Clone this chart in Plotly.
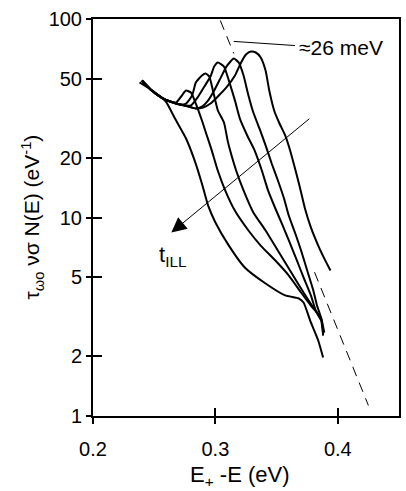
import numpy as np
import plotly.graph_objects as go

# ---- data (x in eV, y in eV^-1) ----
c1_x = [0.238, 0.247, 0.256, 0.260, 0.267, 0.276, 0.283, 0.289, 0.294, 0.300, 0.311, 0.324, 0.341, 0.357, 0.368, 0.372, 0.378, 0.384, 0.388]
c1_y = [47.9, 44.2, 40.2, 38.0, 31.5, 25.0, 19.4, 14.8, 11.5, 9.44, 7.22, 5.60, 4.65, 4.05, 3.91, 3.73, 2.96, 2.40, 1.97]

c2_x = [0.240, 0.247, 0.256, 0.263, 0.268, 0.272, 0.276, 0.280, 0.284, 0.289, 0.293, 0.297, 0.302, 0.308, 0.316, 0.327, 0.337, 0.349, 0.360, 0.370, 0.378, 0.386, 0.389]
c2_y = [49.0, 44.2, 40.2, 38.4, 38.0, 40.7, 43.6, 42.6, 37.5, 30.8, 25.9, 21.8, 17.2, 13.7, 10.8, 8.60, 7.22, 6.07, 5.10, 4.19, 3.60, 3.13, 2.63]

c3_x = [0.240, 0.247, 0.256, 0.263, 0.271, 0.276, 0.281, 0.284, 0.289, 0.292, 0.295, 0.298, 0.302, 0.307, 0.310, 0.312, 0.317, 0.323, 0.331, 0.341, 0.351, 0.362, 0.372, 0.380, 0.386, 0.388]
c3_y = [49.0, 44.2, 40.2, 38.4, 37.1, 37.5, 41.2, 47.9, 51.9, 53.1, 51.3, 43.6, 34.6, 30.1, 24.4, 21.8, 17.2, 13.7, 10.6, 8.60, 6.82, 5.28, 4.19, 3.52, 3.10, 2.60]

c4_x = [0.240, 0.247, 0.256, 0.263, 0.271, 0.280, 0.286, 0.291, 0.296, 0.299, 0.302, 0.307, 0.311, 0.316, 0.320, 0.326, 0.332, 0.338, 0.343, 0.349, 0.355, 0.360, 0.366, 0.372, 0.378, 0.382, 0.386]
c4_y = [49.0, 44.2, 40.2, 38.4, 37.1, 36.7, 40.7, 45.7, 51.3, 57.6, 60.4, 57.6, 49.0, 38.8, 31.5, 25.9, 21.8, 17.2, 13.7, 11.1, 9.11, 7.66, 6.21, 4.99, 4.05, 3.40, 3.06]

c5_x = [0.240, 0.247, 0.256, 0.263, 0.271, 0.278, 0.284, 0.289, 0.294, 0.299, 0.304, 0.309, 0.315, 0.319, 0.323, 0.327, 0.331, 0.336, 0.341, 0.346, 0.351, 0.356, 0.360, 0.365, 0.370, 0.375, 0.380, 0.383, 0.387, 0.388]
c5_y = [49.0, 44.2, 40.2, 38.4, 37.1, 36.2, 35.4, 36.2, 38.8, 43.6, 50.1, 57.6, 63.2, 60.4, 51.9, 41.2, 33.8, 28.1, 23.1, 18.7, 15.4, 12.5, 10.2, 8.40, 6.82, 5.41, 4.29, 3.60, 3.03, 2.54]

c6_x = [0.240, 0.247, 0.256, 0.263, 0.271, 0.278, 0.284, 0.290, 0.296, 0.302, 0.309, 0.316, 0.321, 0.325, 0.329, 0.333, 0.337, 0.341, 0.344, 0.348, 0.352, 0.357, 0.361, 0.365, 0.369, 0.373, 0.378, 0.384, 0.389, 0.394]
c6_y = [49.0, 44.2, 40.2, 38.4, 37.1, 36.2, 35.4, 35.8, 37.5, 40.7, 45.2, 51.9, 60.4, 66.2, 68.6, 67.8, 64.0, 55.0, 43.6, 34.6, 30.1, 25.9, 21.8, 17.7, 14.2, 11.2, 8.91, 7.22, 6.21, 5.41]

# 26 meV guide line (drawn in two pieces, as in the reference)
guide_top_x = [0.304, 0.315]
guide_top_y = [98.3, 67.0]
guide_bot_x = [0.381, 0.425]
guide_bot_y = [5.30, 1.13]

# leader line from guide to label
leader_x = [0.315, 0.365]
leader_y = [77.1, 73.5]

# t_ILL arrow (tail -> head)
arrow_x = [0.378, 0.264]
arrow_y = [31.9, 8.4]

x_ticks = [0.2, 0.3, 0.4]
x_tick_text = ["0.2", "0.3", "0.4"]
y_ticks = [1, 2, 5, 10, 20, 50, 100]
y_tick_text = ["1", "2", "5", "10", "20", "50", "100"]

FONT = "Liberation Sans, Arial, sans-serif"
X_RANGE = [0.2, 0.45]
Y_RANGE = [0, 2]

fig = go.Figure()

curves = [(c1_x, c1_y), (c2_x, c2_y), (c3_x, c3_y), (c4_x, c4_y), (c5_x, c5_y), (c6_x, c6_y)]
for cx, cy in curves:
    fig.add_trace(go.Scatter(x=cx, y=cy, mode="lines",
                             line=dict(color="black", width=2, shape="spline", smoothing=0.5),
                             hoverinfo="skip", showlegend=False))

for gx, gy in [(guide_top_x, guide_top_y), (guide_bot_x, guide_bot_y)]:
    fig.add_trace(go.Scatter(x=gx, y=gy, mode="lines",
                             line=dict(color="black", width=1, dash="10px,7px"),
                             hoverinfo="skip", showlegend=False))

fig.add_trace(go.Scatter(x=leader_x, y=leader_y, mode="lines",
                         line=dict(color="black", width=1),
                         hoverinfo="skip", showlegend=False))

# invisible trace to hold the inner-tick overlay axes
fig.add_trace(go.Scatter(x=[None], y=[None], xaxis="x2", yaxis="y2",
                         showlegend=False, hoverinfo="skip"))

fig.add_annotation(x=arrow_x[1], y=np.log10(arrow_y[1]), ax=arrow_x[0], ay=np.log10(arrow_y[0]),
                   xref="x", yref="y", axref="x", ayref="y", text="",
                   showarrow=True, arrowhead=2, arrowsize=3, arrowwidth=1, arrowcolor="black")

fig.add_annotation(x=0.252, y=np.log10(6.4), xref="x", yref="y", xanchor="left", yanchor="middle",
                   text="t<sub>ILL</sub>", showarrow=False, font=dict(family=FONT, size=22, color="black"))

fig.add_annotation(x=0.367, y=np.log10(71.5), xref="x", yref="y", xanchor="left", yanchor="middle",
                   text="≈26 meV", showarrow=False, font=dict(family=FONT, size=21, color="black"))

# axis titles
fig.add_annotation(x=0, y=0.5, xref="paper", yref="paper", xshift=-61, xanchor="center", yanchor="middle",
                   textangle=-90, text="τ<sub>ωo</sub> νσ N(E) (eV<sup>-1</sup>)", showarrow=False,
                   font=dict(family=FONT, size=21, color="black"))
fig.add_annotation(x=0.5, y=0, xref="paper", yref="paper", yshift=-60, xshift=-7, xanchor="center", yanchor="middle",
                   text="E<sub>+</sub> -E (eV)", showarrow=False,
                   font=dict(family=FONT, size=22, color="black"))

fig.update_layout(
    width=406, height=491,
    margin=dict(l=93, r=5, t=19, b=75),
    paper_bgcolor="white", plot_bgcolor="white",
    font=dict(family=FONT, size=20, color="black"),
    xaxis=dict(range=X_RANGE, tickvals=x_ticks, ticktext=x_tick_text, ticks="outside", ticklen=6,
               tickwidth=2, tickcolor="black", showline=True, linewidth=2, linecolor="black",
               mirror=True, showgrid=False, zeroline=False, ticklabelstandoff=8),
    yaxis=dict(type="log", range=Y_RANGE, tickvals=y_ticks, ticktext=y_tick_text, ticks="outside", ticklen=5,
               tickwidth=2, tickcolor="black", showline=True, linewidth=2, linecolor="black",
               mirror=True, showgrid=False, zeroline=False),
    xaxis2=dict(range=X_RANGE, overlaying="x", anchor="y2", side="bottom", tickvals=x_ticks,
                ticks="inside", ticklen=8, tickwidth=2, tickcolor="black", showticklabels=False,
                showline=False, showgrid=False, zeroline=False),
    yaxis2=dict(type="log", range=Y_RANGE, overlaying="y", anchor="x2", side="left", tickvals=y_ticks,
                ticks="inside", ticklen=9, tickwidth=2, tickcolor="black", showticklabels=False,
                showline=False, showgrid=False, zeroline=False),
)

fig.write_html("out.html")
